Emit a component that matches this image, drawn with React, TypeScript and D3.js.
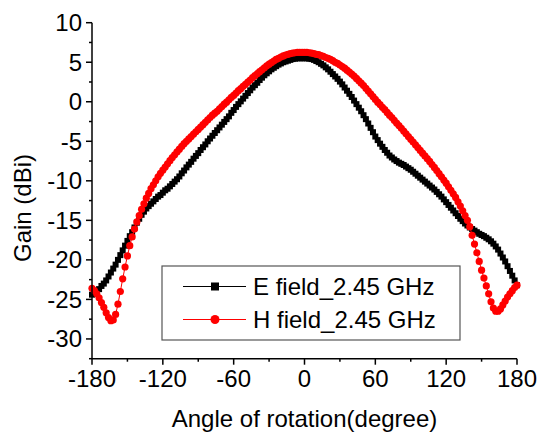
import React from "react";
import * as d3 from "d3";

const angles: number[] = d3.range(-180, 181, 2);

const eField: number[] = [
  -24.4, -24.2, -24.0, -23.7, -23.3, -23.0, -22.6, -22.1, -21.6, -21.1,
  -20.6, -20.0, -19.4, -18.8, -18.2, -17.6, -17.0, -16.5, -15.9, -15.3,
  -14.8, -14.3, -13.9, -13.5, -13.2, -12.9, -12.6, -12.3, -12.0, -11.8,
  -11.5, -11.2, -11.0, -10.7, -10.4, -10.1, -9.8, -9.45, -9.05, -8.7,
  -8.3, -7.95, -7.6, -7.2, -6.85, -6.5, -6.1, -5.75, -5.4, -5.0,
  -4.65, -4.3, -3.95, -3.6, -3.25, -2.9, -2.55, -2.2, -1.85, -1.4,
  -1.05, -0.65, -0.3, 0.05, 0.4, 0.75, 1.1, 1.45, 1.8, 2.1,
  2.4, 2.75, 3.05, 3.35, 3.6, 3.85, 4.1, 4.3, 4.5, 4.7,
  4.85, 5.0, 5.1, 5.2, 5.3, 5.4, 5.45, 5.5, 5.5, 5.5, 5.5,
  5.5, 5.45, 5.4, 5.3, 5.15, 5.0, 4.8, 4.6, 4.35, 4.1,
  3.8, 3.5, 3.2, 2.9, 2.55, 2.2, 1.8, 1.4, 1.0, 0.6,
  0.15, -0.3, -0.75, -1.2, -1.7, -2.2, -2.75, -3.3, -3.85, -4.4,
  -4.85, -5.3, -5.7, -6.1, -6.45, -6.8, -7.05, -7.3, -7.5, -7.7,
  -7.85, -8.0, -8.2, -8.4, -8.6, -8.85, -9.1, -9.35, -9.6, -9.85,
  -10.1, -10.35, -10.6, -10.85, -11.1, -11.4, -11.7, -12.0, -12.35, -12.7,
  -13.05, -13.4, -13.75, -14.1, -14.45, -14.8, -15.1, -15.4, -15.65, -15.9,
  -16.1, -16.3, -16.5, -16.7, -16.85, -17.0, -17.2, -17.4, -17.65, -17.95,
  -18.3, -18.7, -19.2, -19.7, -20.2, -20.8, -21.4, -22.0, -22.6, -23.2,
];

const hField: number[] = [
  -23.6, -23.9, -24.3, -24.8, -25.4, -26.0, -26.7, -27.3, -27.7, -27.6,
  -26.9, -25.6, -24.0, -22.4, -20.9, -19.5, -18.2, -17.1, -16.1, -15.2,
  -14.4, -13.6, -12.9, -12.2, -11.6, -11.0, -10.5, -10.0, -9.5, -9.05,
  -8.65, -8.25, -7.85, -7.45, -7.05, -6.7, -6.35, -6.0, -5.65, -5.3,
  -5.0, -4.7, -4.4, -4.1, -3.8, -3.5, -3.2, -2.9, -2.6, -2.3,
  -2.0, -1.7, -1.45, -1.2, -0.9, -0.6, -0.3, -0.05, 0.25, 0.55,
  0.8, 1.1, 1.4, 1.65, 1.95, 2.2, 2.5, 2.75, 3.05, 3.3,
  3.55, 3.8, 4.05, 4.3, 4.55, 4.75, 4.95, 5.15, 5.35, 5.5,
  5.65, 5.8, 5.9, 6.0, 6.1, 6.15, 6.2, 6.25, 6.25, 6.25, 6.25,
  6.25, 6.2, 6.15, 6.1, 6.0, 5.95, 5.85, 5.75, 5.6, 5.5,
  5.35, 5.2, 5.0, 4.85, 4.65, 4.45, 4.25, 4.0, 3.75, 3.5,
  3.25, 2.95, 2.65, 2.35, 2.05, 1.7, 1.35, 1.0, 0.65, 0.3,
  -0.05, -0.35, -0.7, -1.0, -1.35, -1.7, -2.0, -2.35, -2.7, -3.0,
  -3.35, -3.7, -4.05, -4.4, -4.75, -5.1, -5.45, -5.8, -6.15, -6.5,
  -6.85, -7.2, -7.55, -7.95, -8.3, -8.7, -9.1, -9.5, -9.9, -10.3,
  -10.75, -11.2, -11.65, -12.1, -12.65, -13.2, -13.8, -14.4, -15.0, -15.8,
  -16.9, -18.0, -19.1, -20.2, -21.3, -22.3, -23.3, -24.3, -25.3, -26.1,
  -26.5, -26.5, -26.2, -25.7, -25.2, -24.7, -24.3, -23.9, -23.5, -23.2,
];

const xTicks: number[] = [-180, -120, -60, 0, 60, 120, 180];
const xMinor: number[] = [-150, -90, -30, 30, 90, 150];
const yTicks: number[] = [10, 5, 0, -5, -10, -15, -20, -25, -30];
const yMinor: number[] = [7.5, 2.5, -2.5, -7.5, -12.5, -17.5, -22.5, -27.5, -32.5];
const seriesNames: string[] = ["E field_2.45 GHz", "H field_2.45 GHz"];
const xTitle = "Angle of rotation(degree)";
const yTitle = "Gain (dBi)";

const FONT = "'Liberation Sans', Arial, sans-serif";

export default function App() {
  const W = 539;
  const H = 438;
  const x = d3.scaleLinear().domain([-180, 180]).range([92, 517]);
  const y = d3.scaleLinear().domain([-32.5, 10]).range([358.7, 22.7]);

  const eData = angles.map((a, i) => [a, eField[i]] as [number, number]);
  const hData = angles.map((a, i) => [a, hField[i]] as [number, number]);
  const line = d3
    .line<[number, number]>()
    .x((d) => x(d[0]))
    .y((d) => y(d[1]));

  const x0 = x(-180);
  const yBase = y(-32.5);
  const sq = 6;

  return (
    <svg
      width={W}
      height={H}
      style={{ position: "absolute", left: 0, top: 0, background: "#fff" }}
      fontFamily={FONT}
    >
      <rect x={0} y={0} width={W} height={H} fill="#fff" />
      {/* E field */}
      <path d={line(eData) || ""} fill="none" stroke="#000" strokeWidth={1} />
      {eData.map((d, i) => (
        <rect
          key={"e" + i}
          x={x(d[0]) - sq / 2}
          y={y(d[1]) - sq / 2}
          width={sq}
          height={sq}
          fill="#000"
        />
      ))}
      {/* H field */}
      <path d={line(hData) || ""} fill="none" stroke="#ff0000" strokeWidth={1} />
      {hData.map((d, i) => (
        <circle key={"h" + i} cx={x(d[0])} cy={y(d[1])} r={3.6} fill="#ff0000" />
      ))}

      {/* axes */}
      <line x1={x0} x2={x0} y1={y(10)} y2={yBase} stroke="#000" strokeWidth={1.5} />
      <line x1={x0} x2={x(180)} y1={yBase} y2={yBase} stroke="#000" strokeWidth={1.5} />
      {yTicks.map((t) => (
        <g key={"yt" + t}>
          <line x1={x0 - 6} x2={x0} y1={y(t)} y2={y(t)} stroke="#000" strokeWidth={1.5} />
          <text
            x={82}
            y={y(t)}
            textAnchor="end"
            dominantBaseline="central"
            fontSize={24}
            fill="#000"
          >
            {t}
          </text>
        </g>
      ))}
      {yMinor.map((t) => (
        <line key={"ym" + t} x1={x0 - 3} x2={x0} y1={y(t)} y2={y(t)} stroke="#000" strokeWidth={1.5} />
      ))}
      {xTicks.map((t) => (
        <g key={"xt" + t}>
          <line x1={x(t)} x2={x(t)} y1={yBase} y2={yBase + 6} stroke="#000" strokeWidth={1.5} />
          <text x={x(t)} y={387} textAnchor="middle" fontSize={24} fill="#000">
            {t}
          </text>
        </g>
      ))}
      {xMinor.map((t) => (
        <line key={"xm" + t} x1={x(t)} x2={x(t)} y1={yBase} y2={yBase + 3} stroke="#000" strokeWidth={1.5} />
      ))}

      <text x={304.5} y={427} textAnchor="middle" fontSize={24} fill="#000">
        {xTitle}
      </text>
      <text
        transform={`translate(31,208) rotate(-90)`}
        textAnchor="middle"
        fontSize={24}
        fill="#000"
      >
        {yTitle}
      </text>

      {/* legend */}
      <rect x={162} y={266} width={298} height={74} fill="#fff" stroke="#555" strokeWidth={1.2} />
      <line x1={183} x2={246} y1={286.5} y2={286.5} stroke="#000" strokeWidth={1} />
      <rect x={215 - 4} y={286.5 - 4} width={8} height={8} fill="#000" />
      <text x={253} y={286.5} dominantBaseline="central" fontSize={24} fill="#000">
        {seriesNames[0]}
      </text>
      <line x1={183} x2={246} y1={319.5} y2={319.5} stroke="#ff0000" strokeWidth={1} />
      <circle cx={215} cy={319.5} r={4.5} fill="#ff0000" />
      <text x={253} y={319.5} dominantBaseline="central" fontSize={24} fill="#000">
        {seriesNames[1]}
      </text>
    </svg>
  );
}
